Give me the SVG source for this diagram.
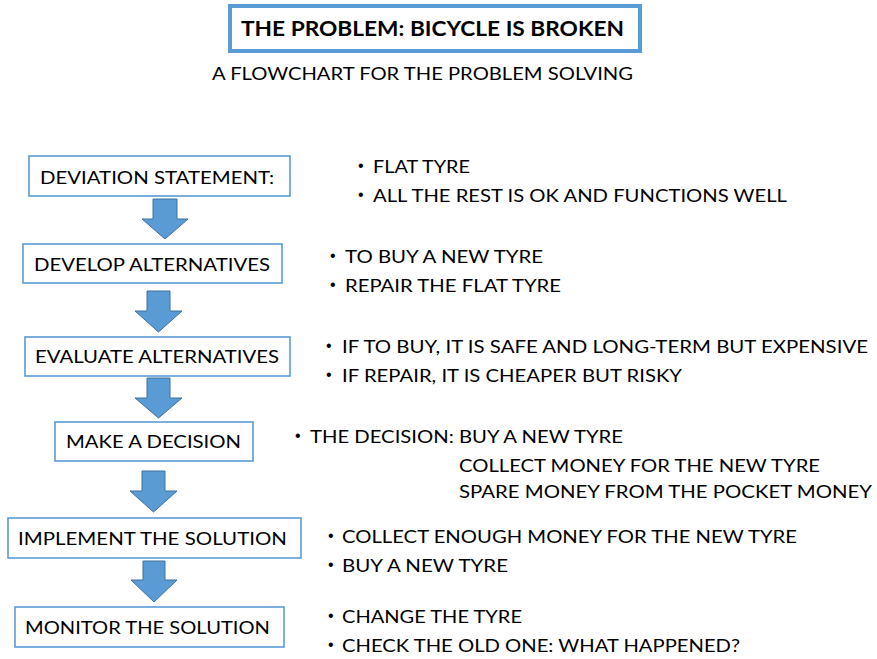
<svg xmlns="http://www.w3.org/2000/svg" width="877" height="659" viewBox="0 0 877 659">
<style>
.bg{fill:#ffffff}
.box{fill:#ffffff;stroke:#5b9bd5;stroke-width:1.6}
.tbox{fill:#ffffff;stroke:#5b9bd5;stroke-width:4}
.t{font-family:Lato,"Liberation Sans",sans-serif;font-size:18px;fill:#000}
.title{font-family:Lato,"Liberation Sans",sans-serif;font-size:21px;font-weight:bold;fill:#000}
.sub{font-family:Lato,"Liberation Sans",sans-serif;font-size:17px;fill:#000}
.b{font-family:"Liberation Sans",sans-serif;font-size:16px;fill:#000}
.arr{fill:#5b9bd5;stroke:#41719c;stroke-width:1}
</style>
<rect class="bg" x="0" y="0" width="877" height="659"/>
<g id="title">
<rect class="tbox" x="230" y="6" width="410" height="45"/>
<text class="title" x="241" y="36" textLength="383" lengthAdjust="spacingAndGlyphs">THE PROBLEM: BICYCLE IS BROKEN</text>
</g>
<g id="subtitle">
<text class="sub" x="212" y="80" textLength="421" lengthAdjust="spacingAndGlyphs">A FLOWCHART FOR THE PROBLEM SOLVING</text>
</g>
<g id="connectors">
<polygon class="arr" points="153,199 177,199 177,219 188,219 165,239 142,219 153,219"/>
<polygon class="arr" points="147,291 170,291 170,311 182,311 158.5,332 135,311 147,311"/>
<polygon class="arr" points="147,378 170,378 170,398 182,398 158.5,418 135,398 147,398"/>
<polygon class="arr" points="142,471 165,471 165,491 177,491 153.5,512 130,491 142,491"/>
<polygon class="arr" points="143,561 165,561 165,580 177,580 154,602 131,580 143,580"/>
</g>
<g id="node-deviation">
<rect class="box" x="29" y="156" width="261" height="40"/>
<text class="t" x="40" y="184" textLength="234" lengthAdjust="spacingAndGlyphs">DEVIATION STATEMENT:</text>
</g>
<g id="node-develop">
<rect class="box" x="23" y="244" width="259" height="39"/>
<text class="t" x="34" y="271" textLength="236" lengthAdjust="spacingAndGlyphs">DEVELOP ALTERNATIVES</text>
</g>
<g id="node-evaluate">
<rect class="box" x="25" y="337" width="265" height="39"/>
<text class="t" x="35" y="363" textLength="244" lengthAdjust="spacingAndGlyphs">EVALUATE ALTERNATIVES</text>
</g>
<g id="node-decision">
<rect class="box" x="55" y="422" width="198" height="39"/>
<text class="t" x="66" y="448" textLength="175" lengthAdjust="spacingAndGlyphs">MAKE A DECISION</text>
</g>
<g id="node-implement">
<rect class="box" x="8" y="518" width="293" height="40"/>
<text class="t" x="18" y="545" textLength="269" lengthAdjust="spacingAndGlyphs">IMPLEMENT THE SOLUTION</text>
</g>
<g id="node-monitor">
<rect class="box" x="15" y="607" width="269" height="40"/>
<text class="t" x="25" y="634" textLength="245" lengthAdjust="spacingAndGlyphs">MONITOR THE SOLUTION</text>
</g>
<g id="notes-deviation">
<text class="b" x="358" y="171">•</text>
<text class="t" x="373" y="173" textLength="97" lengthAdjust="spacingAndGlyphs">FLAT TYRE</text>
<text class="b" x="358" y="200">•</text>
<text class="t" x="373" y="202" textLength="414" lengthAdjust="spacingAndGlyphs">ALL THE REST IS OK AND FUNCTIONS WELL</text>
</g>
<g id="notes-develop">
<text class="b" x="330" y="261">•</text>
<text class="t" x="345" y="263" textLength="198" lengthAdjust="spacingAndGlyphs">TO BUY A NEW TYRE</text>
<text class="b" x="330" y="290">•</text>
<text class="t" x="345" y="292" textLength="216" lengthAdjust="spacingAndGlyphs">REPAIR THE FLAT TYRE</text>
</g>
<g id="notes-evaluate">
<text class="b" x="326" y="351">•</text>
<text class="t" x="342" y="353" textLength="526" lengthAdjust="spacingAndGlyphs">IF TO BUY, IT IS SAFE AND LONG-TERM BUT EXPENSIVE</text>
<text class="b" x="326" y="380">•</text>
<text class="t" x="342" y="382" textLength="340" lengthAdjust="spacingAndGlyphs">IF REPAIR, IT IS CHEAPER BUT RISKY</text>
</g>
<g id="notes-decision">
<text class="b" x="295" y="441">•</text>
<text class="t" x="310" y="443" textLength="313" lengthAdjust="spacingAndGlyphs">THE DECISION: BUY A NEW TYRE</text>
<text class="t" x="459" y="472" textLength="361" lengthAdjust="spacingAndGlyphs">COLLECT MONEY FOR THE NEW TYRE</text>
<text class="t" x="459" y="498" textLength="413" lengthAdjust="spacingAndGlyphs">SPARE MONEY FROM THE POCKET MONEY</text>
</g>
<g id="notes-implement">
<text class="b" x="328" y="541">•</text>
<text class="t" x="342" y="543" textLength="455" lengthAdjust="spacingAndGlyphs">COLLECT ENOUGH MONEY FOR THE NEW TYRE</text>
<text class="b" x="328" y="570">•</text>
<text class="t" x="342" y="572" textLength="166" lengthAdjust="spacingAndGlyphs">BUY A NEW TYRE</text>
</g>
<g id="notes-monitor">
<text class="b" x="328" y="621">•</text>
<text class="t" x="342" y="623" textLength="180" lengthAdjust="spacingAndGlyphs">CHANGE THE TYRE</text>
<text class="b" x="328" y="650">•</text>
<text class="t" x="342" y="652" textLength="398" lengthAdjust="spacingAndGlyphs">CHECK THE OLD ONE: WHAT HAPPENED?</text>
</g>
</svg>
